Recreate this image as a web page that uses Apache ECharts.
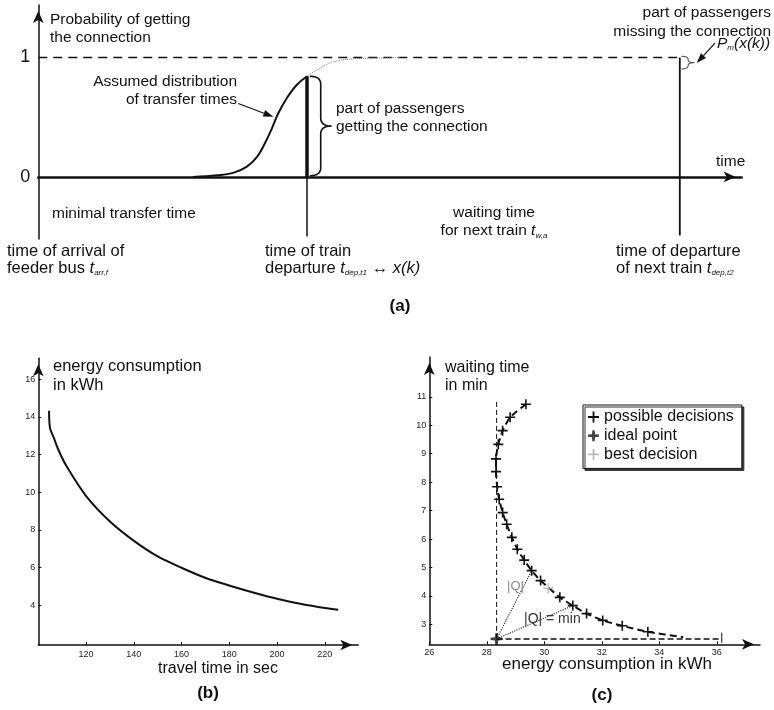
<!DOCTYPE html>
<html><head><meta charset="utf-8">
<script src="https://cdn.jsdelivr.net/npm/echarts@6/dist/echarts.min.js"></script>
<style>html,body{margin:0;padding:0;background:#fff}#c{width:774px;height:710px}</style>
</head><body><div id="c"></div>
<script>
// ================= DATA =================
// Panel (a): probability of getting the connection (time in arbitrary units)
const aEventTimes = [0, 38.2, 91.2];            // arrival feeder bus, departure train 1, departure next train
const aCdfTime = [22, 25.4, 27.7, 29.6, 31.1, 32.2, 33.2, 34.1, 35.3, 36.7, 38.2];
const aCdfProb = [0, 0.014, 0.034, 0.084, 0.168, 0.28, 0.405, 0.531, 0.657, 0.768, 0.843];
const aTailTime = [38.2, 40.0, 41.9, 44.3, 46.7, 51.4];
const aTailProb = [0.843, 0.91, 0.963, 0.986, 0.994, 1.0];
const aYTicks = [0, 1];

// Panel (b): energy consumption vs travel time
const bTravelTime = [104.5, 104.9, 106.3, 108.4, 111.9, 120.2, 130, 140.5, 150.2, 160.4, 170.4, 180.6, 190.7, 200.4, 210.2, 220, 225.6];
const bEnergy = [14.32, 13.4, 12.95, 12.25, 11.36, 9.77, 8.45, 7.38, 6.58, 5.97, 5.44, 5.03, 4.66, 4.34, 4.07, 3.86, 3.77];
const bXTicks = [120, 140, 160, 180, 200, 220];
const bYTicks = [4, 6, 8, 10, 12, 14, 16];

// Panel (c): waiting time vs energy consumption (possible decisions)
const cEnergy = [29.36, 28.81, 28.55, 28.40, 28.32, 28.32, 28.36, 28.43, 28.55, 28.69, 28.87, 29.06, 29.30, 29.56, 29.87, 30.54, 30.99, 31.47, 32.03, 32.71, 33.60, 34.83];
const cWait = [10.74, 10.28, 9.81, 9.33, 8.82, 8.37, 7.84, 7.40, 6.93, 6.52, 6.06, 5.64, 5.26, 4.89, 4.54, 3.95, 3.66, 3.38, 3.14, 2.95, 2.74, 2.55];
const cIdeal = [28.34, 2.49];
const cBest = [30.14, 4.27];
const cQPoints = [[29.56, 4.89], [30.99, 3.66]];   // |Q| and |Q| = min
const cXTicks = [26, 28, 30, 32, 34, 36];
const cYTicks = [3, 4, 5, 6, 7, 8, 9, 10, 11];

// ================= ANNOTATION GEOMETRY (data units) =================
const aLowerEnds = [-0.52, -0.50, -0.49];
const aBraces = [[38.6, 41.7, 0.843, 0.01], [91.45, 93.3, 1.01, 0.905]];
const aArrows = [[28.43, 0.615, 33.41, 0.503], [96.2, 1.12, 93.6, 0.955]];
const cGuideTop = 10.85, cGuideRight = 36.17, cTickSpan = [2.35, 2.71];

// ================= CHART =================
const FONT = '"Liberation Sans", Arial, Helvetica, sans-serif';
const INK = '#111';
const zip = (xs, ys) => xs.map((x, i) => [x, ys[i]]);
const PLUS = 'path://M4.2,0H5.8V4.2H10V5.8H5.8V10H4.2V5.8H0V4.2H4.2Z';
const STAR = 'path://M4,0H6L6.4,3.6L10,4V6L6.4,6.4L6,10H4L3.6,6.4L0,6V4L3.6,3.6Z';

function lineS(idx, pts, ls, extra) {
  return Object.assign({
    type: 'line', xAxisIndex: idx, yAxisIndex: idx, data: pts, symbol: 'none',
    silent: true, z: 3,
    lineStyle: Object.assign({ color: INK, width: 1.5 }, ls)
  }, extra || {});
}

function quadPts(pts, p0, p1, p2) {
  for (let i = 0; i <= 10; i++) {
    const t = i / 10, u = 1 - t;
    pts.push([u * u * p0[0] + 2 * u * t * p1[0] + t * t * p2[0], u * u * p0[1] + 2 * u * t * p1[1] + t * t * p2[1]]);
  }
}
function braceRender(color, width) {
  return function (params, api) {
    const a = api.coord([api.value(0), api.value(2)]);
    const b = api.coord([api.value(1), api.value(3)]);
    const x0 = a[0], xt = b[0], yt = a[1], yb = b[1];
    const xm = (x0 + xt) / 2, ym = (yt + yb) / 2;
    const r = Math.min(8, (yb - yt) / 4);
    const pts = [];
    quadPts(pts, [x0, yt], [xm, yt], [xm, yt + r]);
    quadPts(pts, [xm, ym - r], [xm, ym], [xt, ym]);
    quadPts(pts, [xt, ym], [xm, ym], [xm, ym + r]);
    quadPts(pts, [xm, yb - r], [xm, yb], [x0, yb]);
    return { type: 'polyline', shape: { points: pts }, style: { stroke: color, lineWidth: width, fill: null } };
  };
}
function arrowRender(params, api) {
  const a = api.coord([api.value(0), api.value(1)]);
  const b = api.coord([api.value(2), api.value(3)]);
  const ang = Math.atan2(b[1] - a[1], b[0] - a[0]);
  const L = 10, W = 3.5;
  const base = [b[0] - L * Math.cos(ang), b[1] - L * Math.sin(ang)];
  const p1 = [base[0] + W * Math.sin(ang), base[1] - W * Math.cos(ang)];
  const p2 = [base[0] - W * Math.sin(ang), base[1] + W * Math.cos(ang)];
  return { type: 'group', children: [
    { type: 'line', shape: { x1: a[0], y1: a[1], x2: base[0], y2: base[1] }, style: { stroke: INK, lineWidth: 1.2 } },
    { type: 'polygon', shape: { points: [b, p1, p2] }, style: { fill: INK } }
  ] };
}

function richFor(size) {
  return {
    i: { fontStyle: 'italic', fontSize: size, fontFamily: FONT, fill: INK },
    s: { fontStyle: 'italic', fontSize: 8, fontFamily: FONT, fill: INK, verticalAlign: 'bottom', lineHeight: 6 }
  };
}
function txt(x, y, text, o) {
  const size = (o && o.fontSize) || 15.5;
  return { type: 'text', x: x, y: y, silent: true, z: 50,
    style: Object.assign({ text: text, fill: INK, fontSize: 15.5, fontFamily: FONT, lineHeight: 17,
      align: 'left', verticalAlign: 'top', rich: richFor(size) }, o || {}) };
}
const BOLD = { fontWeight: 'bold', fontSize: 17, align: 'center' };
const BIG = { fontSize: 16.5, lineHeight: 17.3 };

function axisBase(extra) {
  return Object.assign({
    type: 'value', splitLine: { show: false },
    axisLine: { show: true, symbol: ['none', 'arrow'], symbolSize: [8, 12], symbolOffset: [0, -6],
      lineStyle: { color: INK, width: 1.5 } },
    axisTick: { show: false },
    axisLabel: { show: false }
  }, extra);
}
function smallLabels(vals, margin) {
  return { show: true, customValues: vals, fontSize: 9, fontFamily: FONT, color: '#222', margin: margin };
}
function smallTicks(vals) {
  return { show: true, customValues: vals, inside: true, length: 3, lineStyle: { color: INK, width: 1 } };
}

const curveData = zip(cEnergy, cWait).map((v, i, arr) => i === arr.length - 1 ? { value: v, symbol: 'none' } : v);

const option = {
  animation: false,
  grid: [
    { left: 38.3, top: 5, width: 703.4, height: 234 },
    { left: 38.3, top: 358.3, width: 320, height: 286.7 },
    { left: 429.3, top: 357, width: 330.7, height: 287.3 }
  ],
  xAxis: [
    axisBase({ gridIndex: 0, min: 0, max: 100, axisLine: { show: true, onZero: true, symbol: ['none', 'arrow'], symbolSize: [8, 12], symbolOffset: [0, -6], lineStyle: { color: INK, width: 2.5 } } }),
    axisBase({ gridIndex: 1, min: 100, max: 234, axisLabel: smallLabels(bXTicks, 5), axisTick: smallTicks(bXTicks) }),
    axisBase({ gridIndex: 2, min: 26, max: 37.5, axisLabel: smallLabels(cXTicks, 4), axisTick: smallTicks(cXTicks) })
  ],
  yAxis: [
    axisBase({ gridIndex: 0, min: -0.52, max: 1.44,
      axisLabel: { show: true, customValues: aYTicks, fontSize: 18, fontFamily: FONT, color: INK, margin: 8 } }),
    axisBase({ gridIndex: 1, min: 1.9, max: 17.1, axisLabel: smallLabels(bYTicks, 3), axisTick: smallTicks(bYTicks) }),
    axisBase({ gridIndex: 2, min: 2.3, max: 12.4, axisLabel: smallLabels(cYTicks, 3), axisTick: smallTicks(cYTicks) })
  ],
  legend: {
    data: [
      { name: 'possible decisions', icon: PLUS },
      { name: 'ideal point', icon: STAR },
      { name: 'best decision', icon: PLUS }
    ],
    selectedMode: false, orient: 'vertical', left: 583, top: 405,
    itemWidth: 11, itemHeight: 11, itemGap: 2.7,
    padding: [4, 8, 6, 5],
    textStyle: { fontSize: 16, fontFamily: FONT, color: INK, lineHeight: 16 },
    borderColor: INK, borderWidth: 1, backgroundColor: '#fff',
    shadowColor: '#333', shadowOffsetX: 2, shadowOffsetY: 2, shadowBlur: 0
  },
  series: [
    // ---- (a) ----
    lineS(0, [[aEventTimes[0], 1], [aEventTimes[2], 1]], { type: [9, 6], width: 1.6 }),
    lineS(0, zip(aTailTime, aTailProb), { type: 'dotted', width: 1, color: '#777' }, { smooth: 0.4 }),
    lineS(0, zip(aCdfTime, aCdfProb), { width: 2 }, { smooth: 0.4, z: 4 }),
    lineS(0, [[aEventTimes[1], 0], [aEventTimes[1], aCdfProb[aCdfProb.length - 1]]], { width: 3.5 }),
    lineS(0, [[aEventTimes[1], aLowerEnds[1]], [aEventTimes[1], 0]], { width: 1.5 }),
    lineS(0, [[aEventTimes[2], aLowerEnds[2]], [aEventTimes[2], 1]], { width: 1.8 }),
    { type: 'custom', xAxisIndex: 0, yAxisIndex: 0, data: [aBraces[0]], renderItem: braceRender(INK, 1.6), silent: true, z: 5 },
    { type: 'custom', xAxisIndex: 0, yAxisIndex: 0, data: [aBraces[1]], renderItem: braceRender('#555', 1.1), silent: true, z: 5 },
    { type: 'custom', xAxisIndex: 0, yAxisIndex: 0, data: aArrows, renderItem: arrowRender, silent: true, z: 5 },
    // ---- (b) ----
    lineS(1, zip(bTravelTime, bEnergy), { width: 2 }, { smooth: 0.3 }),
    // ---- (c) ----
    lineS(2, [[cIdeal[0], cIdeal[1]], [cIdeal[0], cGuideTop]], { type: [5, 3], width: 1 }),
    lineS(2, [[cIdeal[0], cIdeal[1]], [cGuideRight, cIdeal[1]]], { type: [6, 3], width: 1.5 }),
    lineS(2, [[cGuideRight, cTickSpan[0]], [cGuideRight, cTickSpan[1]]], { width: 1 }),
    lineS(2, [cIdeal, cQPoints[0]], { type: 'dotted', width: 1.2, color: '#333' }),
    lineS(2, [cIdeal, cQPoints[1]], { type: 'dotted', width: 1.2, color: '#333' }),
    { name: 'possible decisions', type: 'line', xAxisIndex: 2, yAxisIndex: 2, data: curveData,
      symbol: PLUS, symbolSize: 10, showAllSymbol: true, smooth: 0.2, silent: true, z: 6,
      itemStyle: { color: INK }, lineStyle: { color: INK, width: 2, type: [7, 4] } },
    { name: 'ideal point', type: 'scatter', xAxisIndex: 2, yAxisIndex: 2, data: [cIdeal],
      symbol: STAR, symbolSize: 12, itemStyle: { color: INK }, silent: true, z: 7 },
    { name: 'best decision', type: 'scatter', xAxisIndex: 2, yAxisIndex: 2, data: [cBest],
      symbol: PLUS, symbolSize: 10, itemStyle: { color: '#aaa' }, silent: true, z: 7 }
  ],
  graphic: [
    // (a)
    txt(50, 11, 'Probability of getting\nthe connection', { lineHeight: 18 }),
    txt(237, 73, 'Assumed distribution\nof transfer times', { align: 'right', lineHeight: 18 }),
    txt(336, 99, 'part of passengers\ngetting the connection', { lineHeight: 18.5 }),
    txt(716, 153, 'time'),
    txt(771, 3, 'part of passengers\nmissing the connection', { align: 'right', lineHeight: 19 }),
    txt(717, 35, '{i|P}{s|m}{i|(x(k))}'),
    txt(52, 205, 'minimal transfer time'),
    txt(494, 203, 'waiting time\nfor next train {i|t}{s|w,a}', { align: 'center', lineHeight: 18.5 }),
    txt(7, 242.4, 'time of arrival of\nfeeder bus {i|t}{s|arr,f}', BIG),
    txt(265, 242.4, 'time of train\ndeparture {i|t}{s|dep,t1} \u2194 {i|x(k)}', BIG),
    txt(616, 242.4, 'time of departure\nof next train {i|t}{s|dep,t2}', BIG),
    txt(400, 298, '(a)', BOLD),
    // (b)
    txt(53, 357, 'energy consumption\nin kWh', { fontSize: 16.5, lineHeight: 19 }),
    txt(218, 660, 'travel time in sec', { fontSize: 16, align: 'center' }),
    txt(208, 685, '(b)', BOLD),
    // (c)
    txt(445, 359, 'waiting time\nin min', { fontSize: 16, lineHeight: 18 }),
    txt(607, 656, 'energy consumption in kWh', { fontSize: 17, align: 'center' }),
    txt(602, 687, '(c)', BOLD),
    txt(507, 578, '|Q|', { fontSize: 13, fill: '#888' }),
    txt(524, 611, '|Q| = min', { fontSize: 14, fill: '#333' })
  ]
};

const chart = echarts.init(document.getElementById('c'), null, { renderer: 'canvas' });
chart.setOption(option);
</script>
</body></html>
